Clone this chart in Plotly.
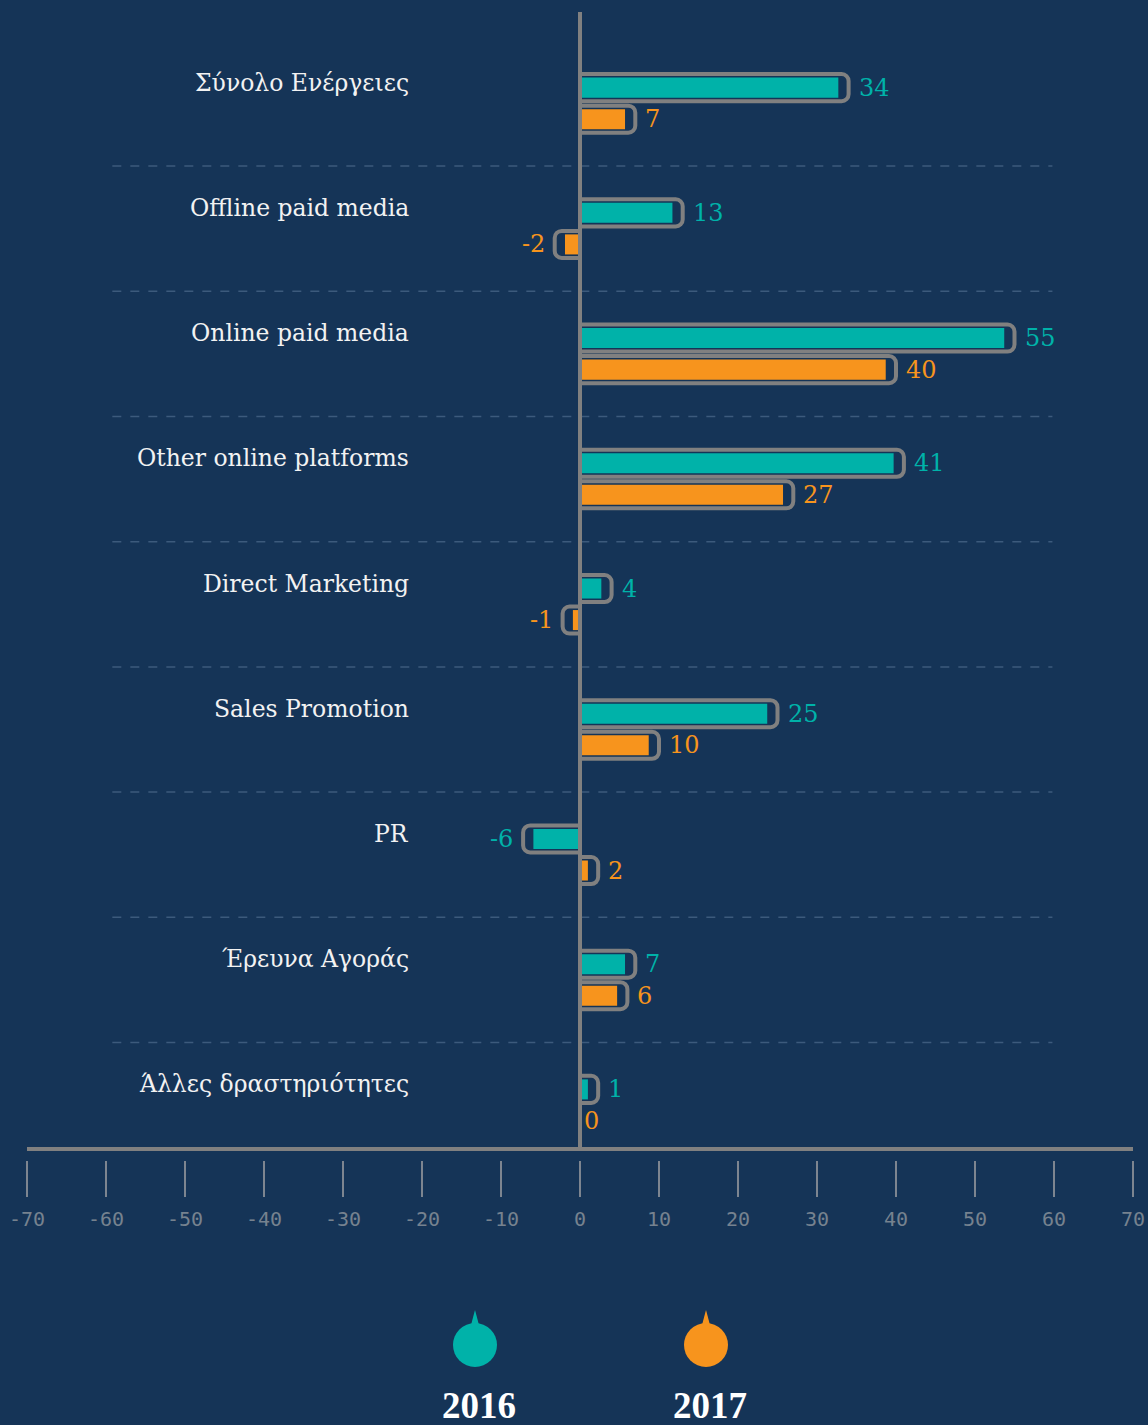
import plotly.graph_objects as go

# ---------------- data ----------------
categories = ["Σύνολο Ενέργειες", "Offline paid media", "Online paid media",
              "Other online platforms", "Direct Marketing", "Sales Promotion",
              "PR", "Έρευνα Αγοράς", "Άλλες δραστηριότητες"]
values_2016 = [34, 13, 55, 41, 4, 25, -6, 7, 1]
values_2017 = [7, -2, 40, 27, -1, 10, 2, 6, 0]
series_names = ["2016", "2017"]
x_ticks = list(range(-70, 71, 10))

# ---------------- style ----------------
BG = "#153457"
TEAL = "#00b2a9"
ORANGE = "#f7941d"
GREY = "#808080"
SEP = "#3c5a7c"
SERIF = "DejaVu Serif"

W, H = 1148, 1425
ML, MR, MT, MB = 27, 15, 12, 265
PLOT_W = W - ML - MR
PLOT_H = H - MT - MB
AXIS_GAP = 11  # px between axis line and tick marks
y_dom0 = AXIS_GAP / PLOT_H

pos = list(range(len(categories)))


def outline_len(v):
    if v > 0:
        return max(v, 2.3)
    if v < 0:
        return v - 1.2
    return None


def inner_len(v):
    o = outline_len(v)
    if o is None:
        return None
    return o - 1.3 if o > 0 else o + 1.3


series = [(values_2016, TEAL, -0.126), (values_2017, ORANGE, 0.126)]
OUT_W, IN_W = 0.216, 0.16

fig = go.Figure()
annotations = []
for (vals, col, c), name in zip(series, series_names):
    fig.add_trace(go.Bar(
        x=[outline_len(v) for v in vals], y=pos, orientation="h",
        width=OUT_W, offset=c - OUT_W / 2,
        marker=dict(color=BG, line=dict(color=GREY, width=4), cornerradius=7),
        hoverinfo="skip", showlegend=False, name=name))
    fig.add_trace(go.Bar(
        x=[inner_len(v) for v in vals], y=pos, orientation="h",
        width=IN_W, offset=c - IN_W / 2,
        marker=dict(color=col, line=dict(width=0)),
        hoverinfo="skip", showlegend=False, name=name))
    for p, v in zip(pos, vals):
        o = outline_len(v)
        annotations.append(dict(
            x=o if o is not None else 0, y=p + c, xref="x", yref="y",
            text=str(v), showarrow=False,
            xanchor="left" if v >= 0 else "right",
            xshift=8 if v > 0 else (-8 if v < 0 else 2),
            font=dict(family=SERIF, size=24, color=col)))

# category labels
for p, cat in zip(pos, categories):
    annotations.append(dict(
        x=-21.4, y=p - 0.126, xref="x", yref="y", text=cat, showarrow=False,
        xanchor="right", yshift=5,
        font=dict(family=SERIF, size=23.5, color="#f2f2f2")))

shapes = []
# dashed separators between categories
for p in pos[:-1]:
    shapes.append(dict(type="line", xref="x", yref="y", x0=-59.2, x1=59.8,
                       y0=p + 0.5, y1=p + 0.5,
                       line=dict(color=SEP, width=1.5, dash="dash"),
                       layer="below"))
# horizontal axis line (sits above the tick marks, with a gap)
shapes.append(dict(type="line", xref="paper", yref="paper", x0=0, x1=1,
                   y0=y_dom0, y1=y_dom0, line=dict(color=GREY, width=4),
                   layer="above"))
# zero line
shapes.append(dict(type="line", xref="x", yref="paper", x0=0, x1=0,
                   y0=y_dom0, y1=1, line=dict(color=GREY, width=4),
                   layer="above"))

# legend (custom markers)
legend_x_px = [475, 706]
legend_cols = [TEAL, ORANGE]
for xpx, col, name in zip(legend_x_px, legend_cols, series_names):
    xa = (xpx - ML) / PLOT_W
    ya = (MT + PLOT_H - 1345) / PLOT_H
    shapes.append(dict(type="circle", xref="paper", yref="paper",
                       xsizemode="pixel", ysizemode="pixel",
                       xanchor=xa, yanchor=ya, x0=-22, x1=22, y0=-22, y1=22,
                       fillcolor=col, line=dict(width=0)))
    shapes.append(dict(type="path", xref="paper", yref="paper",
                       xsizemode="pixel", ysizemode="pixel",
                       xanchor=xa, yanchor=ya,
                       path="M -4,20 L 0,35 L 4,20 Z",
                       fillcolor=col, line=dict(width=0)))
    annotations.append(dict(
        x=(xpx + 4 - ML) / PLOT_W, y=(MT + PLOT_H - 1425) / PLOT_H,
        xref="paper", yref="paper", text=name, showarrow=False,
        xanchor="center", yanchor="bottom", yshift=-3,
        font=dict(family="Liberation Serif", size=37, color="#ffffff",
                  weight="bold")))

fig.update_layout(
    width=W, height=H, barmode="overlay",
    margin=dict(l=ML, r=MR, t=MT, b=MB, autoexpand=False),
    paper_bgcolor=BG, plot_bgcolor=BG,
    showlegend=False,
    annotations=annotations, shapes=shapes,
    xaxis=dict(range=[-70, 70], anchor="free", position=0, side="bottom",
               tickvals=x_ticks, ticktext=[str(t) for t in x_ticks],
               ticks="outside", ticklen=36, tickwidth=1.5,
               tickcolor="#7d8590", showline=False, showgrid=False,
               zeroline=False, ticklabelstandoff=5, automargin=False,
               tickfont=dict(family="DejaVu Sans Mono", size=20,
                             color="#76828f"), fixedrange=True),
    yaxis=dict(domain=[y_dom0, 1], range=[8.35, -0.73], showgrid=False,
               zeroline=False, showticklabels=False, showline=False,
               automargin=False, fixedrange=True),
)

fig.write_html("out.html", config={"displayModeBar": False},
               post_script="document.body.style.margin='0';"
                           "document.body.style.background='" + BG + "';")
